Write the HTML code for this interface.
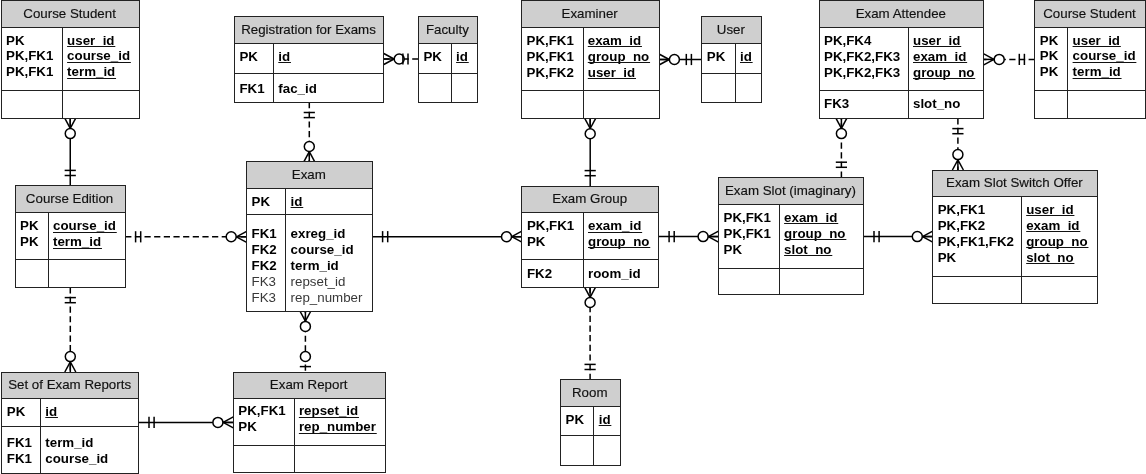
<!DOCTYPE html>
<html><head><meta charset="utf-8"><style>
html,body{margin:0;padding:0;background:#fff;overflow:hidden}
svg{display:block;will-change:transform}
text{font-family:"Liberation Sans",sans-serif;font-size:13.33px}
.h{fill:#111;stroke:#111;stroke-width:0.15px}
.b{font-weight:bold;fill:#000}
.g{fill:#383838}
.k{}
</style></head><body>
<svg width="1146" height="474" viewBox="0 0 1146 474">
<line x1="70.25" y1="118.20" x2="70.25" y2="185.90" stroke="#000000" stroke-width="1.5"/>
<line x1="64.75" y1="118.20" x2="70.25" y2="128.40" stroke="#000000" stroke-width="1.5"/>
<line x1="70.25" y1="118.20" x2="70.25" y2="128.40" stroke="#000000" stroke-width="1.5"/>
<line x1="75.75" y1="118.20" x2="70.25" y2="128.40" stroke="#000000" stroke-width="1.5"/>
<circle cx="70.25" cy="133.60" r="5.0" fill="#fff" stroke="#000000" stroke-width="1.5"/>
<line x1="64.65" y1="175.50" x2="75.85" y2="175.50" stroke="#000000" stroke-width="1.5"/>
<line x1="64.65" y1="170.40" x2="75.85" y2="170.40" stroke="#000000" stroke-width="1.5"/>
<line x1="309.30" y1="102.10" x2="309.30" y2="161.90" stroke="#000000" stroke-width="1.5" stroke-dasharray="6.2 3.45" stroke-dashoffset="0"/>
<line x1="303.70" y1="112.50" x2="314.90" y2="112.50" stroke="#000000" stroke-width="1.5"/>
<line x1="303.70" y1="117.60" x2="314.90" y2="117.60" stroke="#000000" stroke-width="1.5"/>
<line x1="303.80" y1="161.90" x2="309.30" y2="151.70" stroke="#000000" stroke-width="1.5"/>
<line x1="309.30" y1="161.90" x2="309.30" y2="151.70" stroke="#000000" stroke-width="1.5"/>
<line x1="314.80" y1="161.90" x2="309.30" y2="151.70" stroke="#000000" stroke-width="1.5"/>
<circle cx="309.30" cy="146.50" r="5.0" fill="#fff" stroke="#000000" stroke-width="1.5"/>
<line x1="418.40" y1="59.00" x2="383.80" y2="59.00" stroke="#000000" stroke-width="1.5" stroke-dasharray="6.2 3.45" stroke-dashoffset="0"/>
<line x1="383.80" y1="53.50" x2="394.00" y2="59.00" stroke="#000000" stroke-width="1.5"/>
<line x1="383.80" y1="59.00" x2="394.00" y2="59.00" stroke="#000000" stroke-width="1.5"/>
<line x1="383.80" y1="64.50" x2="394.00" y2="59.00" stroke="#000000" stroke-width="1.5"/>
<circle cx="399.20" cy="59.00" r="5.0" fill="#fff" stroke="#000000" stroke-width="1.5"/>
<line x1="408.00" y1="53.40" x2="408.00" y2="64.60" stroke="#000000" stroke-width="1.5"/>
<line x1="402.90" y1="53.40" x2="402.90" y2="64.60" stroke="#000000" stroke-width="1.5"/>
<line x1="659.00" y1="59.50" x2="701.80" y2="59.50" stroke="#000000" stroke-width="1.5"/>
<line x1="659.00" y1="54.00" x2="669.20" y2="59.50" stroke="#000000" stroke-width="1.5"/>
<line x1="659.00" y1="59.50" x2="669.20" y2="59.50" stroke="#000000" stroke-width="1.5"/>
<line x1="659.00" y1="65.00" x2="669.20" y2="59.50" stroke="#000000" stroke-width="1.5"/>
<circle cx="674.40" cy="59.50" r="5.0" fill="#fff" stroke="#000000" stroke-width="1.5"/>
<line x1="691.40" y1="53.90" x2="691.40" y2="65.10" stroke="#000000" stroke-width="1.5"/>
<line x1="686.30" y1="53.90" x2="686.30" y2="65.10" stroke="#000000" stroke-width="1.5"/>
<line x1="590.20" y1="118.30" x2="590.20" y2="186.10" stroke="#000000" stroke-width="1.5"/>
<line x1="584.70" y1="118.30" x2="590.20" y2="128.50" stroke="#000000" stroke-width="1.5"/>
<line x1="590.20" y1="118.30" x2="590.20" y2="128.50" stroke="#000000" stroke-width="1.5"/>
<line x1="595.70" y1="118.30" x2="590.20" y2="128.50" stroke="#000000" stroke-width="1.5"/>
<circle cx="590.20" cy="133.70" r="5.0" fill="#fff" stroke="#000000" stroke-width="1.5"/>
<line x1="584.60" y1="175.70" x2="595.80" y2="175.70" stroke="#000000" stroke-width="1.5"/>
<line x1="584.60" y1="170.60" x2="595.80" y2="170.60" stroke="#000000" stroke-width="1.5"/>
<line x1="1034.80" y1="59.40" x2="983.80" y2="59.40" stroke="#000000" stroke-width="1.5" stroke-dasharray="6.2 3.45" stroke-dashoffset="0"/>
<line x1="983.80" y1="53.90" x2="994.00" y2="59.40" stroke="#000000" stroke-width="1.5"/>
<line x1="983.80" y1="59.40" x2="994.00" y2="59.40" stroke="#000000" stroke-width="1.5"/>
<line x1="983.80" y1="64.90" x2="994.00" y2="59.40" stroke="#000000" stroke-width="1.5"/>
<circle cx="999.20" cy="59.40" r="5.0" fill="#fff" stroke="#000000" stroke-width="1.5"/>
<line x1="1024.40" y1="53.80" x2="1024.40" y2="65.00" stroke="#000000" stroke-width="1.5"/>
<line x1="1019.30" y1="53.80" x2="1019.30" y2="65.00" stroke="#000000" stroke-width="1.5"/>
<line x1="841.40" y1="177.70" x2="841.40" y2="118.20" stroke="#000000" stroke-width="1.5" stroke-dasharray="6.2 3.45" stroke-dashoffset="0"/>
<line x1="835.90" y1="118.20" x2="841.40" y2="128.40" stroke="#000000" stroke-width="1.5"/>
<line x1="841.40" y1="118.20" x2="841.40" y2="128.40" stroke="#000000" stroke-width="1.5"/>
<line x1="846.90" y1="118.20" x2="841.40" y2="128.40" stroke="#000000" stroke-width="1.5"/>
<circle cx="841.40" cy="133.60" r="5.0" fill="#fff" stroke="#000000" stroke-width="1.5"/>
<line x1="835.80" y1="167.30" x2="847.00" y2="167.30" stroke="#000000" stroke-width="1.5"/>
<line x1="835.80" y1="162.20" x2="847.00" y2="162.20" stroke="#000000" stroke-width="1.5"/>
<line x1="957.90" y1="118.20" x2="957.90" y2="170.00" stroke="#000000" stroke-width="1.5" stroke-dasharray="6.2 3.45" stroke-dashoffset="0"/>
<line x1="952.30" y1="128.60" x2="963.50" y2="128.60" stroke="#000000" stroke-width="1.5"/>
<line x1="952.30" y1="133.70" x2="963.50" y2="133.70" stroke="#000000" stroke-width="1.5"/>
<line x1="952.40" y1="170.00" x2="957.90" y2="159.80" stroke="#000000" stroke-width="1.5"/>
<line x1="957.90" y1="170.00" x2="957.90" y2="159.80" stroke="#000000" stroke-width="1.5"/>
<line x1="963.40" y1="170.00" x2="957.90" y2="159.80" stroke="#000000" stroke-width="1.5"/>
<circle cx="957.90" cy="154.60" r="5.0" fill="#fff" stroke="#000000" stroke-width="1.5"/>
<line x1="125.20" y1="236.80" x2="246.60" y2="236.80" stroke="#000000" stroke-width="1.5" stroke-dasharray="6.2 3.45" stroke-dashoffset="0"/>
<line x1="135.60" y1="231.20" x2="135.60" y2="242.40" stroke="#000000" stroke-width="1.5"/>
<line x1="140.70" y1="231.20" x2="140.70" y2="242.40" stroke="#000000" stroke-width="1.5"/>
<line x1="246.60" y1="231.30" x2="236.40" y2="236.80" stroke="#000000" stroke-width="1.5"/>
<line x1="246.60" y1="236.80" x2="236.40" y2="236.80" stroke="#000000" stroke-width="1.5"/>
<line x1="246.60" y1="242.30" x2="236.40" y2="236.80" stroke="#000000" stroke-width="1.5"/>
<circle cx="231.20" cy="236.80" r="5.0" fill="#fff" stroke="#000000" stroke-width="1.5"/>
<line x1="372.20" y1="236.70" x2="521.90" y2="236.70" stroke="#000000" stroke-width="1.5"/>
<line x1="382.60" y1="231.10" x2="382.60" y2="242.30" stroke="#000000" stroke-width="1.5"/>
<line x1="387.70" y1="231.10" x2="387.70" y2="242.30" stroke="#000000" stroke-width="1.5"/>
<line x1="521.90" y1="231.20" x2="511.70" y2="236.70" stroke="#000000" stroke-width="1.5"/>
<line x1="521.90" y1="236.70" x2="511.70" y2="236.70" stroke="#000000" stroke-width="1.5"/>
<line x1="521.90" y1="242.20" x2="511.70" y2="236.70" stroke="#000000" stroke-width="1.5"/>
<circle cx="506.50" cy="236.70" r="5.0" fill="#fff" stroke="#000000" stroke-width="1.5"/>
<line x1="658.70" y1="236.60" x2="718.50" y2="236.60" stroke="#000000" stroke-width="1.5"/>
<line x1="669.10" y1="231.00" x2="669.10" y2="242.20" stroke="#000000" stroke-width="1.5"/>
<line x1="674.20" y1="231.00" x2="674.20" y2="242.20" stroke="#000000" stroke-width="1.5"/>
<line x1="718.50" y1="231.10" x2="708.30" y2="236.60" stroke="#000000" stroke-width="1.5"/>
<line x1="718.50" y1="236.60" x2="708.30" y2="236.60" stroke="#000000" stroke-width="1.5"/>
<line x1="718.50" y1="242.10" x2="708.30" y2="236.60" stroke="#000000" stroke-width="1.5"/>
<circle cx="703.10" cy="236.60" r="5.0" fill="#fff" stroke="#000000" stroke-width="1.5"/>
<line x1="863.60" y1="236.60" x2="932.70" y2="236.60" stroke="#000000" stroke-width="1.5"/>
<line x1="874.00" y1="231.00" x2="874.00" y2="242.20" stroke="#000000" stroke-width="1.5"/>
<line x1="879.10" y1="231.00" x2="879.10" y2="242.20" stroke="#000000" stroke-width="1.5"/>
<line x1="932.70" y1="231.10" x2="922.50" y2="236.60" stroke="#000000" stroke-width="1.5"/>
<line x1="932.70" y1="236.60" x2="922.50" y2="236.60" stroke="#000000" stroke-width="1.5"/>
<line x1="932.70" y1="242.10" x2="922.50" y2="236.60" stroke="#000000" stroke-width="1.5"/>
<circle cx="917.30" cy="236.60" r="5.0" fill="#fff" stroke="#000000" stroke-width="1.5"/>
<line x1="70.30" y1="287.20" x2="70.30" y2="372.00" stroke="#000000" stroke-width="1.5" stroke-dasharray="6.2 3.45" stroke-dashoffset="0"/>
<line x1="64.70" y1="297.60" x2="75.90" y2="297.60" stroke="#000000" stroke-width="1.5"/>
<line x1="64.70" y1="302.70" x2="75.90" y2="302.70" stroke="#000000" stroke-width="1.5"/>
<line x1="64.80" y1="372.00" x2="70.30" y2="361.80" stroke="#000000" stroke-width="1.5"/>
<line x1="70.30" y1="372.00" x2="70.30" y2="361.80" stroke="#000000" stroke-width="1.5"/>
<line x1="75.80" y1="372.00" x2="70.30" y2="361.80" stroke="#000000" stroke-width="1.5"/>
<circle cx="70.30" cy="356.60" r="5.0" fill="#fff" stroke="#000000" stroke-width="1.5"/>
<line x1="305.40" y1="371.90" x2="305.40" y2="311.00" stroke="#000000" stroke-width="1.5" stroke-dasharray="6.2 3.45" stroke-dashoffset="-1.1"/>
<line x1="299.90" y1="311.00" x2="305.40" y2="321.20" stroke="#000000" stroke-width="1.5"/>
<line x1="305.40" y1="311.00" x2="305.40" y2="321.20" stroke="#000000" stroke-width="1.5"/>
<line x1="310.90" y1="311.00" x2="305.40" y2="321.20" stroke="#000000" stroke-width="1.5"/>
<circle cx="305.40" cy="326.40" r="5.0" fill="#fff" stroke="#000000" stroke-width="1.5"/>
<line x1="299.80" y1="366.60" x2="311.00" y2="366.60" stroke="#000000" stroke-width="1.5"/>
<circle cx="305.40" cy="356.50" r="5.0" fill="#fff" stroke="#000000" stroke-width="1.5"/>
<line x1="138.60" y1="422.40" x2="233.30" y2="422.40" stroke="#000000" stroke-width="1.5"/>
<line x1="149.00" y1="416.80" x2="149.00" y2="428.00" stroke="#000000" stroke-width="1.5"/>
<line x1="154.10" y1="416.80" x2="154.10" y2="428.00" stroke="#000000" stroke-width="1.5"/>
<line x1="233.30" y1="416.90" x2="223.10" y2="422.40" stroke="#000000" stroke-width="1.5"/>
<line x1="233.30" y1="422.40" x2="223.10" y2="422.40" stroke="#000000" stroke-width="1.5"/>
<line x1="233.30" y1="427.90" x2="223.10" y2="422.40" stroke="#000000" stroke-width="1.5"/>
<circle cx="217.90" cy="422.40" r="5.0" fill="#fff" stroke="#000000" stroke-width="1.5"/>
<line x1="590.10" y1="379.90" x2="590.10" y2="287.10" stroke="#000000" stroke-width="1.5" stroke-dasharray="6.2 3.45" stroke-dashoffset="0"/>
<line x1="584.60" y1="287.10" x2="590.10" y2="297.30" stroke="#000000" stroke-width="1.5"/>
<line x1="590.10" y1="287.10" x2="590.10" y2="297.30" stroke="#000000" stroke-width="1.5"/>
<line x1="595.60" y1="287.10" x2="590.10" y2="297.30" stroke="#000000" stroke-width="1.5"/>
<circle cx="590.10" cy="302.50" r="5.0" fill="#fff" stroke="#000000" stroke-width="1.5"/>
<line x1="584.50" y1="369.50" x2="595.70" y2="369.50" stroke="#000000" stroke-width="1.5"/>
<line x1="584.50" y1="364.40" x2="595.70" y2="364.40" stroke="#000000" stroke-width="1.5"/>
<rect x="1.5" y="0.5" width="138.00" height="27.00" fill="#cfcfcf"/>
<rect x="1.5" y="27.5" width="138.00" height="91.00" fill="#fff"/>
<rect x="1.5" y="0.5" width="138.00" height="118.00" fill="none" stroke="#222222" stroke-width="1.0"/>
<line x1="1.5" y1="27.5" x2="139.5" y2="27.5" stroke="#222222" stroke-width="1.0"/>
<line x1="1.5" y1="90.5" x2="139.5" y2="90.5" stroke="#222222" stroke-width="1.0"/>
<line x1="62.5" y1="27.5" x2="62.5" y2="118.5" stroke="#222222" stroke-width="1.0"/>
<text transform="translate(69.55,18.10) scale(1,1.02)" text-anchor="middle" class="h">Course Student</text>
<text transform="translate(6.00,44.50) scale(1,1.02)" class="b k">PK</text>
<text transform="translate(67.10,44.50) scale(1,1.02)" class="b">user_id</text>
<line x1="67.10" y1="46.5" x2="115.32" y2="46.5" stroke="#111" stroke-width="1"/>
<text transform="translate(6.00,60.25) scale(1,1.02)" class="b k">PK,FK1</text>
<text transform="translate(67.10,60.25) scale(1,1.02)" class="b">course_id</text>
<line x1="67.10" y1="62.5" x2="130.87" y2="62.5" stroke="#111" stroke-width="1"/>
<text transform="translate(6.00,76.00) scale(1,1.02)" class="b k">PK,FK1</text>
<text transform="translate(67.10,76.00) scale(1,1.02)" class="b">term_id</text>
<line x1="67.10" y1="78.5" x2="116.05" y2="78.5" stroke="#111" stroke-width="1"/>
<rect x="234.5" y="16.5" width="149.00" height="27.00" fill="#cfcfcf"/>
<rect x="234.5" y="43.5" width="149.00" height="59.00" fill="#fff"/>
<rect x="234.5" y="16.5" width="149.00" height="86.00" fill="none" stroke="#222222" stroke-width="1.0"/>
<line x1="234.5" y1="43.5" x2="383.5" y2="43.5" stroke="#222222" stroke-width="1.0"/>
<line x1="234.5" y1="73.5" x2="383.5" y2="73.5" stroke="#222222" stroke-width="1.0"/>
<line x1="273.5" y1="43.5" x2="273.5" y2="102.5" stroke="#222222" stroke-width="1.0"/>
<text transform="translate(308.50,34.10) scale(1,1.02)" text-anchor="middle" class="h">Registration for Exams</text>
<text transform="translate(239.40,60.90) scale(1,1.02)" class="b k">PK</text>
<text transform="translate(278.30,60.90) scale(1,1.02)" class="b">id</text>
<line x1="278.30" y1="62.5" x2="290.95" y2="62.5" stroke="#111" stroke-width="1"/>
<text transform="translate(239.40,92.80) scale(1,1.02)" class="b k">FK1</text>
<text transform="translate(278.30,92.80) scale(1,1.02)" class="b">fac_id</text>
<rect x="418.5" y="16.5" width="59.00" height="27.00" fill="#cfcfcf"/>
<rect x="418.5" y="43.5" width="59.00" height="59.00" fill="#fff"/>
<rect x="418.5" y="16.5" width="59.00" height="86.00" fill="none" stroke="#222222" stroke-width="1.0"/>
<line x1="418.5" y1="43.5" x2="477.5" y2="43.5" stroke="#222222" stroke-width="1.0"/>
<line x1="418.5" y1="73.5" x2="477.5" y2="73.5" stroke="#222222" stroke-width="1.0"/>
<line x1="451.5" y1="43.5" x2="451.5" y2="102.5" stroke="#222222" stroke-width="1.0"/>
<text transform="translate(447.35,34.10) scale(1,1.02)" text-anchor="middle" class="h">Faculty</text>
<text transform="translate(423.40,60.90) scale(1,1.02)" class="b k">PK</text>
<text transform="translate(456.10,60.90) scale(1,1.02)" class="b">id</text>
<line x1="456.10" y1="62.5" x2="468.75" y2="62.5" stroke="#111" stroke-width="1"/>
<rect x="521.5" y="0.5" width="138.00" height="27.00" fill="#cfcfcf"/>
<rect x="521.5" y="27.5" width="138.00" height="91.00" fill="#fff"/>
<rect x="521.5" y="0.5" width="138.00" height="118.00" fill="none" stroke="#222222" stroke-width="1.0"/>
<line x1="521.5" y1="27.5" x2="659.5" y2="27.5" stroke="#222222" stroke-width="1.0"/>
<line x1="521.5" y1="90.5" x2="659.5" y2="90.5" stroke="#222222" stroke-width="1.0"/>
<line x1="583.5" y1="27.5" x2="583.5" y2="118.5" stroke="#222222" stroke-width="1.0"/>
<text transform="translate(589.65,17.90) scale(1,1.02)" text-anchor="middle" class="h">Examiner</text>
<text transform="translate(526.50,44.50) scale(1,1.02)" class="b k">PK,FK1</text>
<text transform="translate(587.80,44.50) scale(1,1.02)" class="b">exam_id</text>
<line x1="587.80" y1="46.5" x2="641.95" y2="46.5" stroke="#111" stroke-width="1"/>
<text transform="translate(526.50,60.55) scale(1,1.02)" class="b k">PK,FK1</text>
<text transform="translate(587.80,60.55) scale(1,1.02)" class="b">group_no</text>
<line x1="587.80" y1="62.5" x2="650.06" y2="62.5" stroke="#111" stroke-width="1"/>
<text transform="translate(526.50,76.60) scale(1,1.02)" class="b k">PK,FK2</text>
<text transform="translate(587.80,76.60) scale(1,1.02)" class="b">user_id</text>
<line x1="587.80" y1="78.5" x2="636.02" y2="78.5" stroke="#111" stroke-width="1"/>
<rect x="701.5" y="16.5" width="60.00" height="27.00" fill="#cfcfcf"/>
<rect x="701.5" y="43.5" width="60.00" height="59.00" fill="#fff"/>
<rect x="701.5" y="16.5" width="60.00" height="86.00" fill="none" stroke="#222222" stroke-width="1.0"/>
<line x1="701.5" y1="43.5" x2="761.5" y2="43.5" stroke="#222222" stroke-width="1.0"/>
<line x1="701.5" y1="73.5" x2="761.5" y2="73.5" stroke="#222222" stroke-width="1.0"/>
<line x1="735.5" y1="43.5" x2="735.5" y2="102.5" stroke="#222222" stroke-width="1.0"/>
<text transform="translate(730.85,34.10) scale(1,1.02)" text-anchor="middle" class="h">User</text>
<text transform="translate(706.80,60.90) scale(1,1.02)" class="b k">PK</text>
<text transform="translate(740.00,60.90) scale(1,1.02)" class="b">id</text>
<line x1="740.00" y1="62.5" x2="752.65" y2="62.5" stroke="#111" stroke-width="1"/>
<rect x="819.5" y="0.5" width="164.00" height="27.00" fill="#cfcfcf"/>
<rect x="819.5" y="27.5" width="164.00" height="91.00" fill="#fff"/>
<rect x="819.5" y="0.5" width="164.00" height="118.00" fill="none" stroke="#222222" stroke-width="1.0"/>
<line x1="819.5" y1="27.5" x2="983.5" y2="27.5" stroke="#222222" stroke-width="1.0"/>
<line x1="819.5" y1="90.5" x2="983.5" y2="90.5" stroke="#222222" stroke-width="1.0"/>
<line x1="908.5" y1="27.5" x2="908.5" y2="118.5" stroke="#222222" stroke-width="1.0"/>
<text transform="translate(900.80,18.00) scale(1,1.02)" text-anchor="middle" class="h">Exam Attendee</text>
<text transform="translate(824.00,44.70) scale(1,1.02)" class="b k">PK,FK4</text>
<text transform="translate(913.00,44.70) scale(1,1.02)" class="b">user_id</text>
<line x1="913.00" y1="46.5" x2="961.22" y2="46.5" stroke="#111" stroke-width="1"/>
<text transform="translate(824.00,60.75) scale(1,1.02)" class="b k">PK,FK2,FK3</text>
<text transform="translate(913.00,60.75) scale(1,1.02)" class="b">exam_id</text>
<line x1="913.00" y1="62.5" x2="967.15" y2="62.5" stroke="#111" stroke-width="1"/>
<text transform="translate(824.00,76.80) scale(1,1.02)" class="b k">PK,FK2,FK3</text>
<text transform="translate(913.00,76.80) scale(1,1.02)" class="b">group_no</text>
<line x1="913.00" y1="78.5" x2="975.26" y2="78.5" stroke="#111" stroke-width="1"/>
<text transform="translate(824.00,108.20) scale(1,1.02)" class="b k">FK3</text>
<text transform="translate(913.00,108.20) scale(1,1.02)" class="b">slot_no</text>
<rect x="1034.5" y="0.5" width="111.00" height="27.00" fill="#cfcfcf"/>
<rect x="1034.5" y="27.5" width="111.00" height="91.00" fill="#fff"/>
<rect x="1034.5" y="0.5" width="111.00" height="118.00" fill="none" stroke="#222222" stroke-width="1.0"/>
<line x1="1034.5" y1="27.5" x2="1145.5" y2="27.5" stroke="#222222" stroke-width="1.0"/>
<line x1="1034.5" y1="90.5" x2="1145.5" y2="90.5" stroke="#222222" stroke-width="1.0"/>
<line x1="1067.5" y1="27.5" x2="1067.5" y2="118.5" stroke="#222222" stroke-width="1.0"/>
<text transform="translate(1089.50,17.90) scale(1,1.02)" text-anchor="middle" class="h">Course Student</text>
<text transform="translate(1039.80,44.50) scale(1,1.02)" class="b k">PK</text>
<text transform="translate(1072.60,44.50) scale(1,1.02)" class="b">user_id</text>
<line x1="1072.60" y1="46.5" x2="1120.82" y2="46.5" stroke="#111" stroke-width="1"/>
<text transform="translate(1039.80,60.40) scale(1,1.02)" class="b k">PK</text>
<text transform="translate(1072.60,60.40) scale(1,1.02)" class="b">course_id</text>
<line x1="1072.60" y1="62.5" x2="1136.37" y2="62.5" stroke="#111" stroke-width="1"/>
<text transform="translate(1039.80,76.30) scale(1,1.02)" class="b k">PK</text>
<text transform="translate(1072.60,76.30) scale(1,1.02)" class="b">term_id</text>
<line x1="1072.60" y1="78.5" x2="1121.55" y2="78.5" stroke="#111" stroke-width="1"/>
<rect x="15.5" y="185.5" width="110.00" height="27.00" fill="#cfcfcf"/>
<rect x="15.5" y="212.5" width="110.00" height="75.00" fill="#fff"/>
<rect x="15.5" y="185.5" width="110.00" height="102.00" fill="none" stroke="#222222" stroke-width="1.0"/>
<line x1="15.5" y1="212.5" x2="125.5" y2="212.5" stroke="#222222" stroke-width="1.0"/>
<line x1="15.5" y1="259.5" x2="125.5" y2="259.5" stroke="#222222" stroke-width="1.0"/>
<line x1="48.5" y1="212.5" x2="48.5" y2="287.5" stroke="#222222" stroke-width="1.0"/>
<text transform="translate(69.55,203.20) scale(1,1.02)" text-anchor="middle" class="h">Course Edition</text>
<text transform="translate(20.10,230.20) scale(1,1.02)" class="b k">PK</text>
<text transform="translate(53.00,230.20) scale(1,1.02)" class="b">course_id</text>
<line x1="53.00" y1="232.5" x2="116.77" y2="232.5" stroke="#111" stroke-width="1"/>
<text transform="translate(20.10,246.00) scale(1,1.02)" class="b k">PK</text>
<text transform="translate(53.00,246.00) scale(1,1.02)" class="b">term_id</text>
<line x1="53.00" y1="248.5" x2="101.95" y2="248.5" stroke="#111" stroke-width="1"/>
<rect x="246.5" y="161.5" width="126.00" height="27.00" fill="#cfcfcf"/>
<rect x="246.5" y="188.5" width="126.00" height="123.00" fill="#fff"/>
<rect x="246.5" y="161.5" width="126.00" height="150.00" fill="none" stroke="#222222" stroke-width="1.0"/>
<line x1="246.5" y1="188.5" x2="372.5" y2="188.5" stroke="#222222" stroke-width="1.0"/>
<line x1="246.5" y1="214.5" x2="372.5" y2="214.5" stroke="#222222" stroke-width="1.0"/>
<line x1="285.5" y1="188.5" x2="285.5" y2="311.5" stroke="#222222" stroke-width="1.0"/>
<text transform="translate(308.80,179.40) scale(1,1.02)" text-anchor="middle" class="h">Exam</text>
<text transform="translate(251.60,205.80) scale(1,1.02)" class="b k">PK</text>
<text transform="translate(290.60,205.80) scale(1,1.02)" class="b">id</text>
<line x1="290.60" y1="207.5" x2="303.25" y2="207.5" stroke="#111" stroke-width="1"/>
<text transform="translate(251.60,237.70) scale(1,1.02)" class="b k">FK1</text>
<text transform="translate(290.60,237.70) scale(1,1.02)" class="b">exreg_id</text>
<text transform="translate(251.60,253.65) scale(1,1.02)" class="b k">FK2</text>
<text transform="translate(290.60,253.65) scale(1,1.02)" class="b">course_id</text>
<text transform="translate(251.60,269.60) scale(1,1.02)" class="b k">FK2</text>
<text transform="translate(290.60,269.60) scale(1,1.02)" class="b">term_id</text>
<text transform="translate(251.60,285.55) scale(1,1.02)" class="g k">FK3</text>
<text transform="translate(290.60,285.55) scale(1,1.02)" class="g">repset_id</text>
<text transform="translate(251.60,301.50) scale(1,1.02)" class="g k">FK3</text>
<text transform="translate(290.60,301.50) scale(1,1.02)" class="g">rep_number</text>
<rect x="521.5" y="186.5" width="137.00" height="26.00" fill="#cfcfcf"/>
<rect x="521.5" y="212.5" width="137.00" height="75.00" fill="#fff"/>
<rect x="521.5" y="186.5" width="137.00" height="101.00" fill="none" stroke="#222222" stroke-width="1.0"/>
<line x1="521.5" y1="212.5" x2="658.5" y2="212.5" stroke="#222222" stroke-width="1.0"/>
<line x1="521.5" y1="259.5" x2="658.5" y2="259.5" stroke="#222222" stroke-width="1.0"/>
<line x1="583.5" y1="212.5" x2="583.5" y2="287.5" stroke="#222222" stroke-width="1.0"/>
<text transform="translate(589.70,203.00) scale(1,1.02)" text-anchor="middle" class="h">Exam Group</text>
<text transform="translate(526.90,229.90) scale(1,1.02)" class="b k">PK,FK1</text>
<text transform="translate(588.00,229.90) scale(1,1.02)" class="b">exam_id</text>
<line x1="588.00" y1="232.5" x2="642.15" y2="232.5" stroke="#111" stroke-width="1"/>
<text transform="translate(526.90,245.50) scale(1,1.02)" class="b k">PK</text>
<text transform="translate(588.00,245.50) scale(1,1.02)" class="b">group_no</text>
<line x1="588.00" y1="247.5" x2="650.26" y2="247.5" stroke="#111" stroke-width="1"/>
<text transform="translate(526.90,277.60) scale(1,1.02)" class="b k">FK2</text>
<text transform="translate(588.00,277.60) scale(1,1.02)" class="b">room_id</text>
<rect x="718.5" y="177.5" width="145.00" height="27.00" fill="#cfcfcf"/>
<rect x="718.5" y="204.5" width="145.00" height="90.00" fill="#fff"/>
<rect x="718.5" y="177.5" width="145.00" height="117.00" fill="none" stroke="#222222" stroke-width="1.0"/>
<line x1="718.5" y1="204.5" x2="863.5" y2="204.5" stroke="#222222" stroke-width="1.0"/>
<line x1="718.5" y1="268.5" x2="863.5" y2="268.5" stroke="#222222" stroke-width="1.0"/>
<line x1="779.5" y1="204.5" x2="779.5" y2="294.5" stroke="#222222" stroke-width="1.0"/>
<text transform="translate(790.45,194.90) scale(1,1.02)" text-anchor="middle" class="h">Exam Slot (imaginary)</text>
<text transform="translate(723.50,221.80) scale(1,1.02)" class="b k">PK,FK1</text>
<text transform="translate(784.10,221.80) scale(1,1.02)" class="b">exam_id</text>
<line x1="784.10" y1="223.5" x2="838.25" y2="223.5" stroke="#111" stroke-width="1"/>
<text transform="translate(723.50,237.75) scale(1,1.02)" class="b k">PK,FK1</text>
<text transform="translate(784.10,237.75) scale(1,1.02)" class="b">group_no</text>
<line x1="784.10" y1="239.5" x2="846.36" y2="239.5" stroke="#111" stroke-width="1"/>
<text transform="translate(723.50,253.70) scale(1,1.02)" class="b k">PK</text>
<text transform="translate(784.10,253.70) scale(1,1.02)" class="b">slot_no</text>
<line x1="784.10" y1="255.5" x2="832.30" y2="255.5" stroke="#111" stroke-width="1"/>
<rect x="932.5" y="170.5" width="165.00" height="26.00" fill="#cfcfcf"/>
<rect x="932.5" y="196.5" width="165.00" height="107.00" fill="#fff"/>
<rect x="932.5" y="170.5" width="165.00" height="133.00" fill="none" stroke="#222222" stroke-width="1.0"/>
<line x1="932.5" y1="196.5" x2="1097.5" y2="196.5" stroke="#222222" stroke-width="1.0"/>
<line x1="932.5" y1="276.5" x2="1097.5" y2="276.5" stroke="#222222" stroke-width="1.0"/>
<line x1="1021.5" y1="196.5" x2="1021.5" y2="303.5" stroke="#222222" stroke-width="1.0"/>
<text transform="translate(1014.40,186.80) scale(1,1.02)" text-anchor="middle" class="h">Exam Slot Switch Offer</text>
<text transform="translate(937.70,213.60) scale(1,1.02)" class="b k">PK,FK1</text>
<text transform="translate(1026.20,213.60) scale(1,1.02)" class="b">user_id</text>
<line x1="1026.20" y1="215.5" x2="1074.42" y2="215.5" stroke="#111" stroke-width="1"/>
<text transform="translate(937.70,229.65) scale(1,1.02)" class="b k">PK,FK2</text>
<text transform="translate(1026.20,229.65) scale(1,1.02)" class="b">exam_id</text>
<line x1="1026.20" y1="231.5" x2="1080.35" y2="231.5" stroke="#111" stroke-width="1"/>
<text transform="translate(937.70,245.70) scale(1,1.02)" class="b k">PK,FK1,FK2</text>
<text transform="translate(1026.20,245.70) scale(1,1.02)" class="b">group_no</text>
<line x1="1026.20" y1="247.5" x2="1088.46" y2="247.5" stroke="#111" stroke-width="1"/>
<text transform="translate(937.70,261.75) scale(1,1.02)" class="b k">PK</text>
<text transform="translate(1026.20,261.75) scale(1,1.02)" class="b">slot_no</text>
<line x1="1026.20" y1="263.5" x2="1074.40" y2="263.5" stroke="#111" stroke-width="1"/>
<rect x="1.5" y="372.5" width="137.00" height="26.00" fill="#cfcfcf"/>
<rect x="1.5" y="398.5" width="137.00" height="75.00" fill="#fff"/>
<rect x="1.5" y="372.5" width="137.00" height="101.00" fill="none" stroke="#222222" stroke-width="1.0"/>
<line x1="1.5" y1="398.5" x2="138.5" y2="398.5" stroke="#222222" stroke-width="1.0"/>
<line x1="1.5" y1="426.5" x2="138.5" y2="426.5" stroke="#222222" stroke-width="1.0"/>
<line x1="40.5" y1="398.5" x2="40.5" y2="473.5" stroke="#222222" stroke-width="1.0"/>
<text transform="translate(69.60,388.80) scale(1,1.02)" text-anchor="middle" class="h">Set of Exam Reports</text>
<text transform="translate(6.80,415.70) scale(1,1.02)" class="b k">PK</text>
<text transform="translate(45.30,415.70) scale(1,1.02)" class="b">id</text>
<line x1="45.30" y1="417.5" x2="57.95" y2="417.5" stroke="#111" stroke-width="1"/>
<text transform="translate(6.80,447.40) scale(1,1.02)" class="b k">FK1</text>
<text transform="translate(45.30,447.40) scale(1,1.02)" class="b">term_id</text>
<text transform="translate(6.80,463.40) scale(1,1.02)" class="b k">FK1</text>
<text transform="translate(45.30,463.40) scale(1,1.02)" class="b">course_id</text>
<rect x="233.5" y="372.5" width="152.00" height="26.00" fill="#cfcfcf"/>
<rect x="233.5" y="398.5" width="152.00" height="74.00" fill="#fff"/>
<rect x="233.5" y="372.5" width="152.00" height="100.00" fill="none" stroke="#222222" stroke-width="1.0"/>
<line x1="233.5" y1="398.5" x2="385.5" y2="398.5" stroke="#222222" stroke-width="1.0"/>
<line x1="233.5" y1="445.5" x2="385.5" y2="445.5" stroke="#222222" stroke-width="1.0"/>
<line x1="294.5" y1="398.5" x2="294.5" y2="472.5" stroke="#222222" stroke-width="1.0"/>
<text transform="translate(308.70,388.80) scale(1,1.02)" text-anchor="middle" class="h">Exam Report</text>
<text transform="translate(238.30,415.40) scale(1,1.02)" class="b k">PK,FK1</text>
<text transform="translate(298.90,415.40) scale(1,1.02)" class="b">repset_id</text>
<line x1="298.90" y1="417.5" x2="358.97" y2="417.5" stroke="#111" stroke-width="1"/>
<text transform="translate(238.30,431.20) scale(1,1.02)" class="b k">PK</text>
<text transform="translate(298.90,431.20) scale(1,1.02)" class="b">rep_number</text>
<line x1="298.90" y1="433.5" x2="376.74" y2="433.5" stroke="#111" stroke-width="1"/>
<rect x="560.5" y="379.5" width="60.00" height="27.00" fill="#cfcfcf"/>
<rect x="560.5" y="406.5" width="60.00" height="59.00" fill="#fff"/>
<rect x="560.5" y="379.5" width="60.00" height="86.00" fill="none" stroke="#222222" stroke-width="1.0"/>
<line x1="560.5" y1="406.5" x2="620.5" y2="406.5" stroke="#222222" stroke-width="1.0"/>
<line x1="560.5" y1="435.5" x2="620.5" y2="435.5" stroke="#222222" stroke-width="1.0"/>
<line x1="593.5" y1="406.5" x2="593.5" y2="465.5" stroke="#222222" stroke-width="1.0"/>
<text transform="translate(589.75,397.00) scale(1,1.02)" text-anchor="middle" class="h">Room</text>
<text transform="translate(565.50,423.80) scale(1,1.02)" class="b k">PK</text>
<text transform="translate(598.70,423.80) scale(1,1.02)" class="b">id</text>
<line x1="598.70" y1="425.5" x2="611.35" y2="425.5" stroke="#111" stroke-width="1"/>
</svg>
</body></html>
